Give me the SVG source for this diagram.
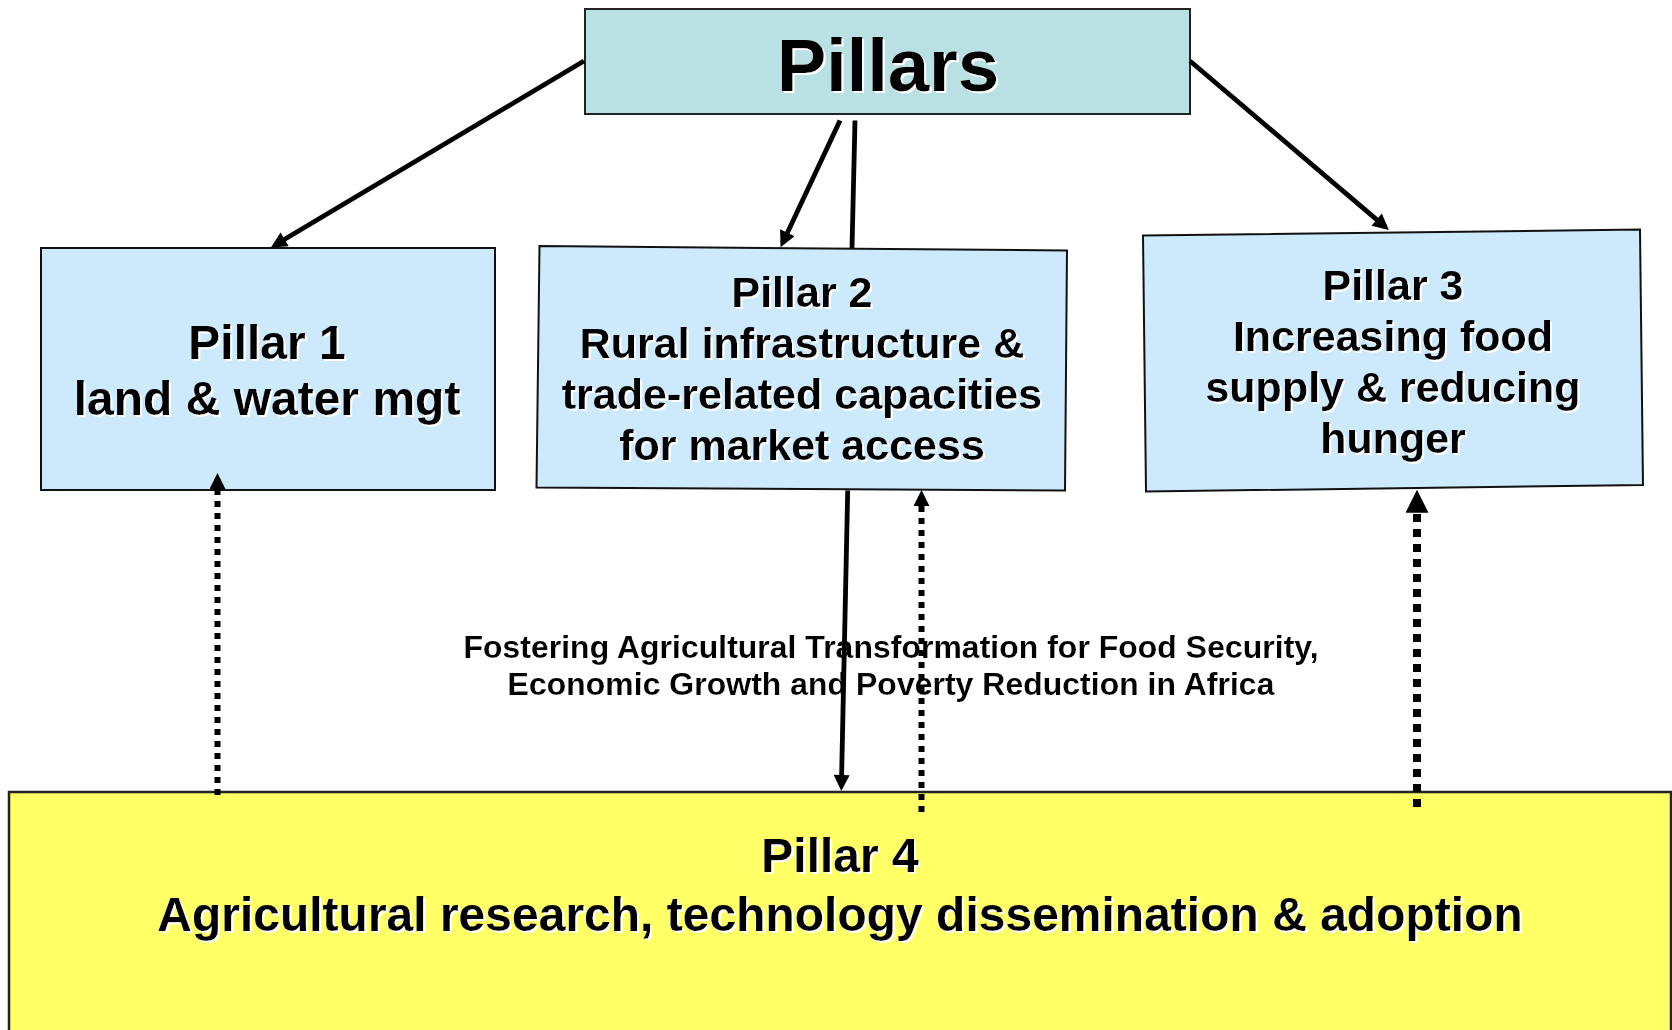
<svg xmlns="http://www.w3.org/2000/svg" width="1672" height="1030" viewBox="0 0 1672 1030">
<defs>
<style>
.t{font-family:"Liberation Sans",Arial,Helvetica,sans-serif;font-weight:bold;fill:#000;text-anchor:middle;filter:url(#ws)}
.box{fill:#cdeafc;stroke:#111;stroke-width:2}
.solid{stroke:#000;stroke-width:4.8;fill:none}
.dot{stroke:#000;stroke-width:6;fill:none;stroke-dasharray:6 6}
.dotb{stroke:#000;stroke-width:8;fill:none;stroke-dasharray:8 7}
</style>
<filter id="ws" x="-5%" y="-20%" width="110%" height="140%">
<feDropShadow dx="2" dy="2" stdDeviation="0" flood-color="#fff" flood-opacity="1"/>
</filter>
<marker id="ah" viewBox="0 0 10 10" refX="7" refY="5" markerWidth="18" markerHeight="16" markerUnits="userSpaceOnUse" orient="auto"><path d="M0,0 L10,5 L0,10 z" fill="#000"/></marker>
<marker id="ahd" viewBox="0 0 10 10" refX="6" refY="5" markerWidth="16" markerHeight="16" markerUnits="userSpaceOnUse" orient="auto"><path d="M0,0 L10,5 L0,10 z" fill="#000"/></marker>
<marker id="ahb" viewBox="0 0 10 10" refX="6" refY="5" markerWidth="23" markerHeight="23" markerUnits="userSpaceOnUse" orient="auto"><path d="M0,0 L10,5 L0,10 z" fill="#000"/></marker>
</defs>
<rect width="1672" height="1030" fill="#fff"/>

<g id="pillar4">
<rect x="9" y="792" width="1662" height="260" fill="#ffff66" stroke="#222" stroke-width="2.5"/>
<text class="t" x="840" y="872" font-size="48">Pillar 4</text>
<text class="t" x="840" y="931" font-size="48">Agricultural research, technology dissemination &amp; adoption</text>
</g>

<g id="pillars">
<rect x="585" y="9" width="605" height="105" fill="#b9e0e3" stroke="#222" stroke-width="2"/>
<text class="t" x="888" y="91" font-size="74">Pillars</text>
</g>

<g id="pillar1">
<rect class="box" x="41" y="248" width="454" height="242"/>
<text class="t" x="267" y="359" font-size="48">Pillar 1</text>
<text class="t" x="267" y="415" font-size="48">land &amp; water mgt</text>
</g>

<g id="pillar2">
<polygon class="box" points="539.5,246 1067,250.5 1065,490.5 536.5,487.5"/>
<text class="t" x="802" y="307" font-size="43">Pillar 2</text>
<text class="t" x="802" y="358" font-size="43">Rural infrastructure &amp;</text>
<text class="t" x="802" y="409" font-size="43">trade-related capacities</text>
<text class="t" x="802" y="460" font-size="43">for market access</text>
</g>

<g id="pillar3">
<polygon class="box" points="1143,235.5 1640,229.5 1643,485 1146,491.5"/>
<text class="t" x="1393" y="300" font-size="43">Pillar 3</text>
<text class="t" x="1393" y="351" font-size="43">Increasing food</text>
<text class="t" x="1393" y="402" font-size="43">supply &amp; reducing</text>
<text class="t" x="1393" y="453" font-size="43">hunger</text>
</g>

<g id="caption">
<text class="t" x="891" y="658" font-size="32">Fostering Agricultural Transformation for Food Security,</text>
<text class="t" x="891" y="695" font-size="32">Economic Growth and Poverty Reduction in Africa</text>
</g>

<g id="connectors">
<line class="solid" x1="584" y1="61" x2="275" y2="245" marker-end="url(#ah)"/>
<line class="solid" x1="840" y1="120.5" x2="782.6" y2="242.9" marker-end="url(#ah)"/>
<line class="solid" x1="855" y1="120.5" x2="852" y2="248"/>
<line class="solid" x1="847.7" y1="490.5" x2="841.4" y2="786.2" marker-end="url(#ah)"/>
<line class="solid" x1="1190" y1="61" x2="1385.2" y2="226.8" marker-end="url(#ah)"/>
<line class="dot" x1="217.5" y1="795" x2="217.5" y2="479.5" marker-end="url(#ahd)"/>
<line class="dot" x1="921.5" y1="812" x2="921.5" y2="496.5" marker-end="url(#ahd)"/>
<line class="dotb" x1="1417" y1="807" x2="1417" y2="499" marker-end="url(#ahb)"/>
</g>
</svg>
